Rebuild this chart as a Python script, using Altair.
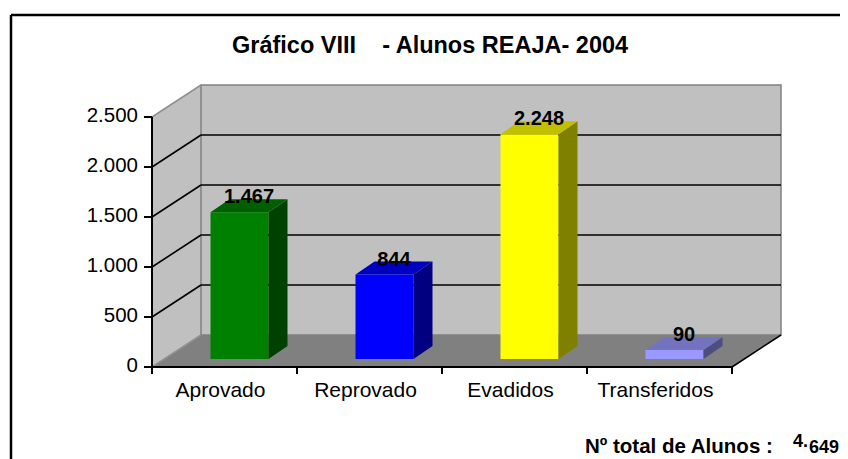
import altair as alt
import pandas as pd

# ---------------- data ----------------
categories = ["Aprovado", "Reprovado", "Evadidos", "Transferidos"]
values = [1467, 844, 2248, 90]
value_labels = ["1.467", "844", "2.248", "90"]
y_ticks = [0, 500, 1000, 1500, 2000, 2500]
y_tick_labels = ["0", "500", "1.000", "1.500", "2.000", "2.500"]
front_colors = ["#008000", "#0000FF", "#FFFF00", "#9999FF"]
side_colors = ["#004000", "#000080", "#808000", "#4D4D80"]
top_colors = ["#006000", "#0000C0", "#C0C000", "#7373BF"]
title_text = "Gráfico VIII\u00a0\u00a0\u00a0\u00a0- Alunos REAJA- 2004"
total_label = "Nº total de Alunos :"
total_head = "4."
total_tail = "649"

FONT = "Liberation Sans"

# ---------------- geometry (pixels) ----------------
VIEW_X, VIEW_Y = 11, 15          # screen position of the view (border)
W, H = 829, 450                  # view size (page is 832 wide inside the margin)
ORIGIN_X, ORIGIN_Y = 152, 367    # screen position of category 0 / value 0 (front)
PX_CAT = 145.0                   # pixels per category band
PX_UNIT = 0.1                    # pixels per value unit


def dx(px):
    return px / PX_CAT


def dv(px):
    return px / PX_UNIT


def sx(x):
    return (x - ORIGIN_X) / PX_CAT


def sy(y):
    return (ORIGIN_Y - y) / PX_UNIT


DEPTH_X, DEPTH_Y = dx(49), dv(32)          # wall depth
F_DX, F_DY = dx(15), dv(8)                 # bar front offset
B_DX, B_DY = dx(34), dv(21)                # bar back offset
BAR_W = dx(58)
N = len(categories)
YMAX = y_ticks[-1]

XS = alt.Scale(domain=[sx(VIEW_X), sx(VIEW_X + W)], nice=False, zero=False)
YS = alt.Scale(domain=[sy(VIEW_Y + H), sy(VIEW_Y)], nice=False, zero=False)


def X(f):
    return alt.X(f, type="quantitative", scale=XS, axis=None, stack=None)


def X2(f):
    return alt.X2(f)


def Y(f):
    return alt.Y(f, type="quantitative", scale=YS, axis=None, stack=None)


def Y2(f):
    return alt.Y2(f)


COLOR = alt.Color("col:N", scale=None, legend=None)

# ---------------- outer border (top and left; the rest runs off the page) ----------------
border_df = pd.DataFrame({"x": [sx(VIEW_X), sx(VIEW_X)], "x2": [sx(VIEW_X + W + 20), sx(VIEW_X)],
                          "y": [sy(VIEW_Y), sy(VIEW_Y)], "y2": [sy(VIEW_Y), sy(VIEW_Y + H + 20)]})
border_l = alt.Chart(border_df).mark_rule(color="black", strokeWidth=2.5).encode(
    x=X("x"), x2=X2("x2"), y=Y("y"), y2=Y2("y2"))

# ---------------- walls & floor ----------------
side_wall = pd.DataFrame({"x": [0, DEPTH_X], "y": [0, DEPTH_Y], "y2": [YMAX, YMAX + DEPTH_Y]})
side_wall_l = alt.Chart(side_wall).mark_area(orient="vertical", color="#C0C0C0", opacity=1).encode(
    x=X("x"), y=Y("y"), y2=Y2("y2"))

back_wall = pd.DataFrame({"x": [DEPTH_X], "x2": [N + DEPTH_X], "y": [DEPTH_Y], "y2": [YMAX + DEPTH_Y]})
back_wall_l = alt.Chart(back_wall).mark_rect(fill="#C0C0C0", stroke="#808080", strokeWidth=1.5).encode(
    x=X("x"), x2=X2("x2"), y=Y("y"), y2=Y2("y2"))

floor = pd.DataFrame({"y": [0, DEPTH_Y], "x": [0, DEPTH_X], "x2": [N, N + DEPTH_X]})
floor_l = alt.Chart(floor).mark_area(orient="horizontal", color="#808080", opacity=1).encode(
    y=Y("y"), x=X("x"), x2=X2("x2"))

grid_vals = [v for v in y_ticks if v not in (0, YMAX)]
back_grid = pd.DataFrame({"x": [DEPTH_X] * len(grid_vals), "x2": [N + DEPTH_X] * len(grid_vals),
                          "y": [v + DEPTH_Y for v in grid_vals]})
back_grid_l = alt.Chart(back_grid).mark_rule(color="black", strokeWidth=1.6).encode(
    x=X("x"), x2=X2("x2"), y=Y("y"))

side_grid = pd.DataFrame({"x": [0] * len(grid_vals), "x2": [DEPTH_X] * len(grid_vals),
                          "y": grid_vals, "y2": [v + DEPTH_Y for v in grid_vals]})
side_grid_l = alt.Chart(side_grid).mark_rule(color="black", strokeWidth=1.6).encode(
    x=X("x"), x2=X2("x2"), y=Y("y"), y2=Y2("y2"))

side_edges = pd.DataFrame({"x": [0, 0], "x2": [DEPTH_X, DEPTH_X],
                           "y": [0, YMAX], "y2": [DEPTH_Y, YMAX + DEPTH_Y]})
side_edges_l = alt.Chart(side_edges).mark_rule(color="#909090", strokeWidth=1.5).encode(
    x=X("x"), x2=X2("x2"), y=Y("y"), y2=Y2("y2"))

floor_edge = pd.DataFrame({"x": [N], "x2": [N + DEPTH_X], "y": [0], "y2": [DEPTH_Y]})
floor_edge_l = alt.Chart(floor_edge).mark_rule(color="black", strokeWidth=1.6).encode(
    x=X("x"), x2=X2("x2"), y=Y("y"), y2=Y2("y2"))

# ---------------- axes ----------------
axis_lines = pd.DataFrame({"x": [0, 0], "x2": [0, N], "y": [0, 0], "y2": [YMAX, 0]})
axis_lines_l = alt.Chart(axis_lines).mark_rule(color="black", strokeWidth=2).encode(
    x=X("x"), x2=X2("x2"), y=Y("y"), y2=Y2("y2"))

ytick_df = pd.DataFrame({"x": [-dx(8)] * len(y_ticks), "x2": [0] * len(y_ticks), "y": y_ticks,
                         "label": y_tick_labels, "lx": [-dx(14)] * len(y_ticks)})
ytick_l = alt.Chart(ytick_df).mark_rule(color="black", strokeWidth=2).encode(
    x=X("x"), x2=X2("x2"), y=Y("y"))
ylab_l = alt.Chart(ytick_df).mark_text(align="right", baseline="middle", font=FONT, fontSize=20.5,
                                       color="black", dy=-1).encode(
    x=X("lx"), y=Y("y"), text="label:N")

xt = list(range(N + 1))
xtick_df = pd.DataFrame({"x": xt, "y": [0] * len(xt), "y2": [-dv(7)] * len(xt)})
xtick_l = alt.Chart(xtick_df).mark_rule(color="black", strokeWidth=2).encode(
    x=X("x"), y=Y("y"), y2=Y2("y2"))

xlab_df = pd.DataFrame({"x": [i + 0.5 - dx(4) for i in range(N)], "y": [-dv(24)] * N, "cat": categories})
xlab_l = alt.Chart(xlab_df).mark_text(align="center", baseline="middle", font=FONT, fontSize=21,
                                      color="black").encode(
    x=X("x"), y=Y("y"), text="cat:N")

# ---------------- bars ----------------
rows_front, rows_side, rows_top, rows_lab = [], [], [], []
for i, (c, v, lab) in enumerate(zip(categories, values, value_labels)):
    xl = i + 0.5 - BAR_W / 2 + F_DX
    xr = xl + BAR_W
    rows_front.append({"cat": c, "col": front_colors[i], "x": xl, "x2": xr, "y": F_DY, "y2": v + F_DY})
    rows_side.append({"cat": c, "col": side_colors[i], "x": xr, "y": F_DY, "y2": v + F_DY})
    rows_side.append({"cat": c, "col": side_colors[i], "x": xr + (B_DX - F_DX), "y": B_DY, "y2": v + B_DY})
    rows_top.append({"cat": c, "col": top_colors[i], "y": v + F_DY, "x": xl, "x2": xr})
    rows_top.append({"cat": c, "col": top_colors[i], "y": v + B_DY,
                     "x": xl + (B_DX - F_DX), "x2": xr + (B_DX - F_DX)})
    rows_lab.append({"cat": c, "x": i + 0.5 + (F_DX + B_DX) / 2, "y": v + dv(17), "label": lab})

front_l = alt.Chart(pd.DataFrame(rows_front)).mark_rect(opacity=1).encode(
    x=X("x"), x2=X2("x2"), y=Y("y"), y2=Y2("y2"), color=COLOR)
side_l = alt.Chart(pd.DataFrame(rows_side)).mark_area(orient="vertical", opacity=1).encode(
    x=X("x"), y=Y("y"), y2=Y2("y2"), color=COLOR, detail="cat:N")
top_l = alt.Chart(pd.DataFrame(rows_top)).mark_area(orient="horizontal", opacity=1).encode(
    y=Y("y"), x=X("x"), x2=X2("x2"), color=COLOR, detail="cat:N")
vlab_l = alt.Chart(pd.DataFrame(rows_lab)).mark_text(align="center", baseline="alphabetic", font=FONT,
                                                    fontSize=20, fontWeight="bold", color="black").encode(
    x=X("x"), y=Y("y"), text="label:N")

# ---------------- title & footer ----------------
title_df = pd.DataFrame({"x": [sx(232)], "y": [sy(53)], "t": [title_text]})
title_l = alt.Chart(title_df).mark_text(align="left", baseline="alphabetic", font=FONT, fontSize=23.5,
                                        fontWeight="bold", color="black").encode(
    x=X("x"), y=Y("y"), text="t:N")

foot_df = pd.DataFrame({"x": [sx(585), sx(793), sx(809)], "y": [sy(453), sy(447), sy(453)],
                        "t": [total_label, total_head, total_tail]})
foot1_l = alt.Chart(foot_df.iloc[[0]]).mark_text(align="left", baseline="alphabetic", font=FONT, fontSize=20.5,
                                                 fontWeight="bold", color="black").encode(
    x=X("x"), y=Y("y"), text="t:N")
foot2_l = alt.Chart(foot_df.iloc[[1]]).mark_text(align="left", baseline="alphabetic", font=FONT, fontSize=18,
                                                 fontWeight="bold", color="black").encode(
    x=X("x"), y=Y("y"), text="t:N")
foot3_l = alt.Chart(foot_df.iloc[[2]]).mark_text(align="left", baseline="alphabetic", font=FONT, fontSize=18,
                                                 fontWeight="bold", color="black").encode(
    x=X("x"), y=Y("y"), text="t:N")

chart = alt.layer(
    border_l,
    side_wall_l, back_wall_l, floor_l, back_grid_l, side_grid_l, side_edges_l, floor_edge_l,
    front_l, side_l, top_l,
    axis_lines_l, ytick_l, ylab_l, xtick_l, xlab_l, vlab_l,
    title_l, foot1_l, foot2_l, foot3_l,
).properties(
    width=W, height=H,
    autosize=alt.AutoSizeParams(type="none"),
    padding={"left": VIEW_X - 8, "top": VIEW_Y - 8, "right": 0, "bottom": 0},
    background="white",
).configure_view(stroke=None, fill="white")

chart.save("out.html", embed_options={"renderer": "svg", "actions": False})
